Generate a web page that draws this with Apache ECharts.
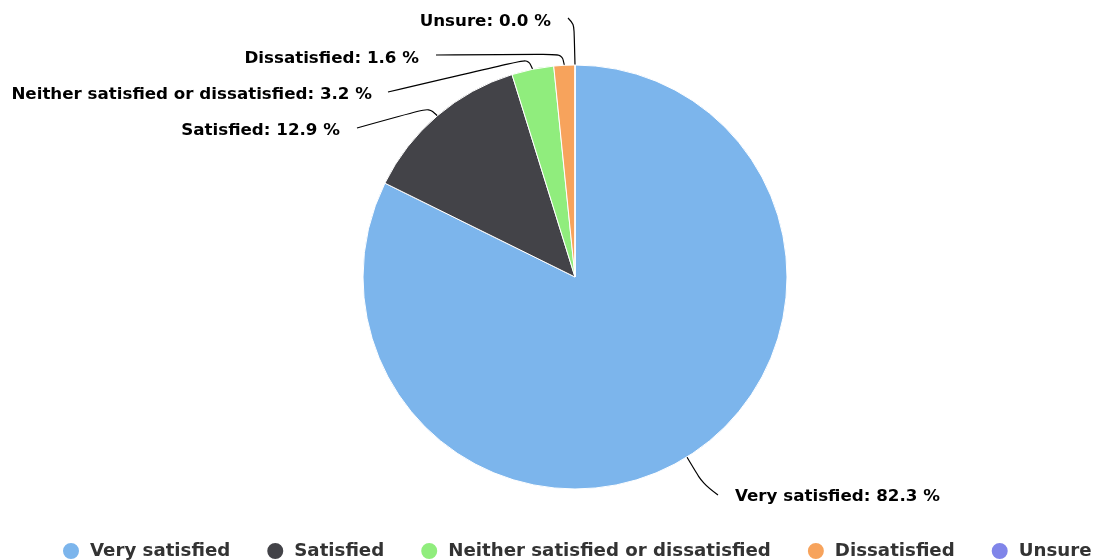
<!DOCTYPE html>
<html><head><meta charset="utf-8">
<script src="https://cdn.jsdelivr.net/npm/echarts@6/dist/echarts.min.js"></script>
<style>html,body{margin:0;padding:0;background:#fff}#c{width:1094px;height:560px}</style>
</head><body><div id="c"></div>
<script>
const categories = ['Very satisfied','Satisfied','Neither satisfied or dissatisfied','Dissatisfied','Unsure'];
const values = [82.3, 12.9, 3.2, 1.6, 0.0];
const colors = ['#7cb5ec','#434348','#90ed7d','#f7a35c','#8085e9'];
// label placement (style): label anchor, elbow, line end
const labelPlacement = [
  {x:735, y:497, align:'left',  elbow:[703,484], end:[718,495]},
  {x:340, y:131, align:'right', elbow:[429,108], end:[357,128]},
  {x:372, y:95,  align:'right', elbow:[528,59],  end:[388,92]},
  {x:419, y:59,  align:'right', elbow:[562,54],  end:[436,55]},
  {x:551, y:22,  align:'right', elbow:[574,24],  end:[568,18]}
];
const chart = echarts.init(document.getElementById('c'));
chart.setOption({
  animation:false,
  color: colors,
  legend:{
    top: 541, left: 61, width: 1060, padding: 0, icon:'circle', itemWidth:18, itemHeight:18, itemGap:35,
    textStyle:{fontFamily:'DejaVu Sans', fontWeight:'bold', fontSize:18.2, color:'#333', padding:[0,0,0,5]},
    data: categories
  },
  series:[{
    type:'pie', center:[575,277], radius:212, startAngle:90, clockwise:true,
    stillShowZeroSum:true, percentPrecision:1, minShowLabelAngle:0, avoidLabelOverlap:false,
    itemStyle:{borderColor:'#fff', borderWidth:1},
    label:{formatter: p => p.name + ': ' + p.value.toFixed(1) + ' %', fontFamily:'DejaVu Sans', fontWeight:'bold', fontSize:16.7, color:'#000'},
    labelLine:{show:true, length:20, length2:20, smooth:0.35, lineStyle:{color:'#000', width:1.2}},
    labelLayout: function(params){
      const p = labelPlacement[params.dataIndex];
      const start = params.labelLinePoints ? params.labelLinePoints[0] : p.elbow;
      return {x:p.x, y:p.y, align:p.align, verticalAlign:'middle', labelLinePoints:[start, p.elbow, p.end]};
    },
    data: categories.map((n,i)=>({name:n, value:values[i]}))
  }]
});
</script></body></html>
